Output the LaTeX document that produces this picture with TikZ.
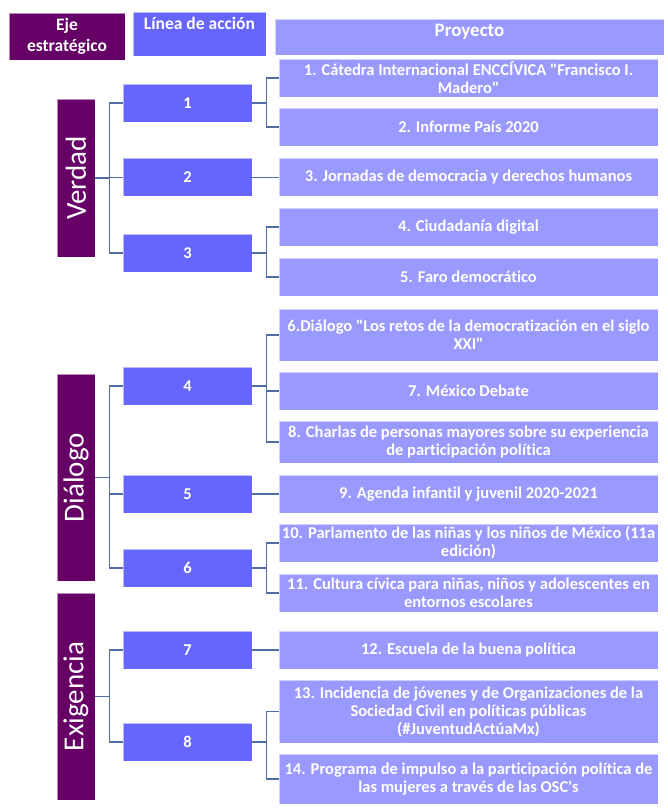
\documentclass[tikz,border=0pt]{standalone}
\usepackage{fontspec}
\setmainfont{Carlito}[Ligatures={TeX,NoCommon}]
\usepackage{graphicx}
\usepackage{xcolor}
\usepackage{tikz}
\usetikzlibrary{positioning,calc}
\definecolor{ejemorado}{HTML}{660066}
\definecolor{lineaazul}{HTML}{6666FF}
\definecolor{proylila}{HTML}{9999FF}
\definecolor{conectazul}{RGB}{79,109,160}
\tikzset{
  caja/.style={rectangle, draw=white, draw opacity=0.55, line width=0.6pt,
               text=white, align=center, inner sep=1pt},
  eje/.style={caja, fill=ejemorado, minimum width=38, font=\fontsize{29}{32}\selectfont},
  encabezado/.style={caja, font=\bfseries\fontsize{17.5}{21}\selectfont},
  linea/.style={caja, fill=lineaazul, minimum width=129, minimum height=38,
                font=\bfseries\fontsize{16.5}{18}\selectfont},
  proyecto/.style={caja, fill=proylila, minimum width=379, minimum height=38,
                   font=\bfseries\fontsize{16.5}{18}\selectfont},
  conector/.style={draw=conectazul, line width=1.5pt},
}
\begin{document}
\begin{tikzpicture}[x=1pt, y=-1pt]
  \useasboundingbox (0,0) rectangle (667,810);
  \node[encabezado, fill=ejemorado, minimum width=116, minimum height=47] (hEje) at (67,36.5) {Eje\\estratégico};
  \node[encabezado, fill=lineaazul, minimum width=133, minimum height=44] (hLinea) at (199.5,34) {Línea de acción\\\phantom{x}};
  \node[encabezado, fill=proylila, minimum width=389, minimum height=36, text depth=13pt,
        font=\bfseries\fontsize{19}{21}\selectfont] (hProy) at (469.5,37) {Proyecto};

  \node[eje, minimum height=158] (verdad) at (76,178) {\rotatebox{90}{Verdad}};
  \node[eje, minimum height=207] (dialogo) at (76,477.5) {\rotatebox{90}{Diálogo}};
  \node[eje, minimum height=207] (exigencia) at (76,696.5) {\rotatebox{90}{Exigencia}};

  \node[linea] (l1) at (187.5,103) {1};
  \node[linea] (l2) at (187.5,177.5) {2};
  \node[linea] (l3) at (187.5,253) {3};
  \node[linea] (l4) at (187.5,386) {4};
  \node[linea] (l5) at (187.5,494) {5};
  \node[linea] (l6) at (187.5,568) {6};
  \node[linea] (l7) at (187.5,650) {7};
  \node[linea] (l8) at (187.5,742) {8};

  \node[proyecto] (p1) at (468.5,78) {1. Cátedra Internacional ENCCÍVICA \textquotedbl Francisco I.\\Madero\textquotedbl};
  \node[proyecto] (p2) at (468.5,127) {2. Informe País 2020};
  \node[proyecto] (p3) at (468.5,177.5) {3. Jornadas de democracia y derechos humanos};
  \node[proyecto] (p4) at (468.5,227) {4. Ciudadanía digital};
  \node[proyecto] (p5) at (468.5,277) {5. Faro democrático};
  \node[proyecto, minimum height=52] (p6) at (468.5,335) {6.Diálogo \textquotedbl Los retos de la democratización en el siglo\\XXI\textquotedbl};
  \node[proyecto] (p7) at (468.5,391) {7. México Debate};
  \node[proyecto, minimum height=42] (p8) at (468.5,442) {8. Charlas de personas mayores sobre su experiencia\\de participación política};
  \node[proyecto] (p9) at (468.5,494) {9. Agenda infantil y juvenil 2020-2021};
  \node[proyecto] (p10) at (468.5,543) {10. Parlamento de las niñas y los niños de México (11a\\edición)};
  \node[proyecto] (p11) at (468.5,593) {11. Cultura cívica para niñas, niños y adolescentes en\\entornos escolares};
  \node[proyecto] (p12) at (468.5,650) {12. Escuela de la buena política};
  \node[proyecto, minimum height=63] (p13) at (468.5,711.5) {13. Incidencia de jóvenes y de Organizaciones de la\\Sociedad Civil en políticas públicas\\(\#JuventudActúaMx)};
  \node[proyecto, minimum height=50] (p14) at (468.5,779) {14. Programa de impulso a la participación política de\\las mujeres a través de las OSC\textquotesingle s};

  \foreach \a/\b in {verdad/l1, verdad/l2, verdad/l3, dialogo/l4, dialogo/l5, dialogo/l6, exigencia/l7, exigencia/l8,
                     l1/p1, l1/p2, l2/p3, l3/p4, l3/p5, l4/p6, l4/p7, l4/p8, l5/p9, l6/p10, l6/p11, l7/p12, l8/p13, l8/p14}
    \draw[conector] (\a.east) -- ++(14,0) |- (\b.west);
\end{tikzpicture}
\end{document}
